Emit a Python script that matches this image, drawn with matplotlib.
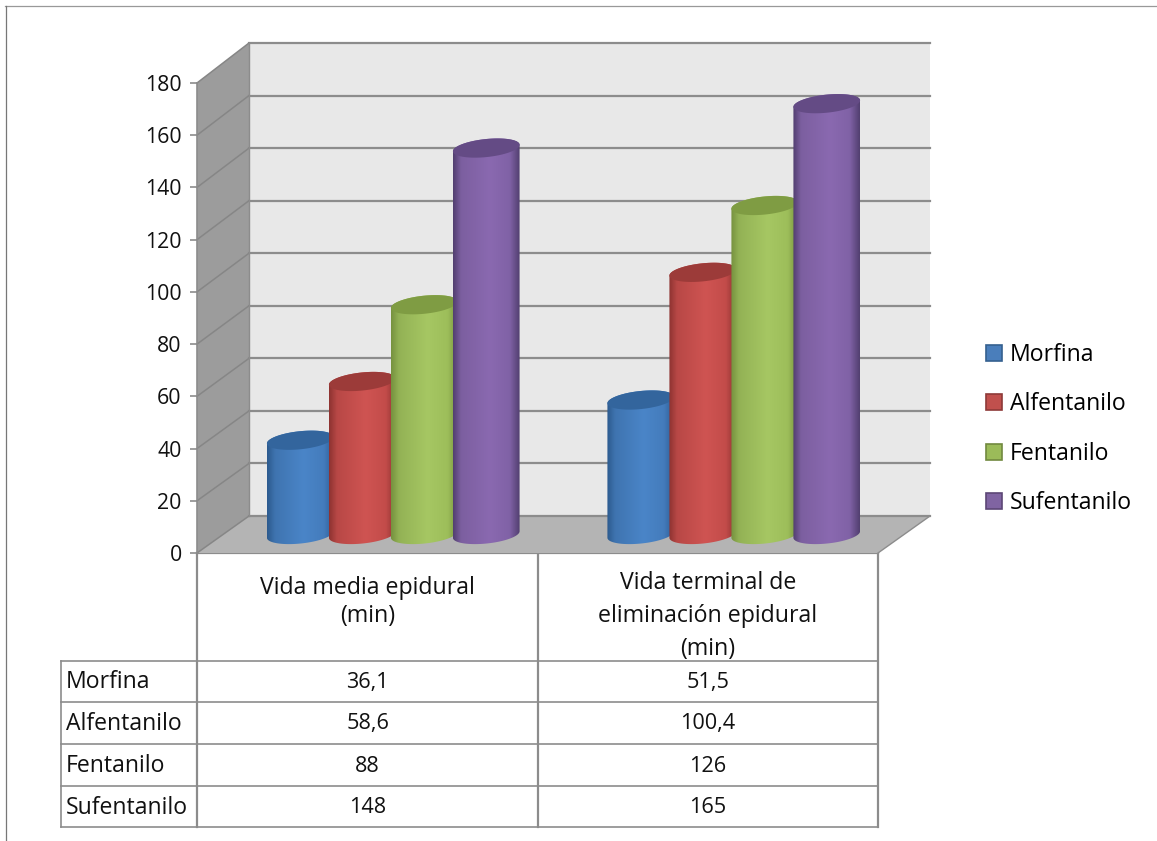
import numpy as np
import matplotlib
matplotlib.use("Agg")
import matplotlib.pyplot as plt
from matplotlib.patches import Polygon, Patch

plt.rcParams['font.family'] = ['Open Sans', 'DejaVu Sans']

# -----------------------------
# Data
# -----------------------------
categories = [["Vida media epidural", "(min)"],
              ["Vida terminal de", "eliminación epidural", "(min)"]]
series = ["Morfina", "Alfentanilo", "Fentanilo", "Sufentanilo"]
morfina = [36.1, 51.5]
alfentanilo = [58.6, 100.4]
fentanilo = [88, 126]
sufentanilo = [148, 165]
y_ticks = list(range(0, 181, 20))

values = [morfina, alfentanilo, fentanilo, sufentanilo]

# side stops of each cylinder: edge, mid, highlight, mid, edge
body_colors = [
    ["#2C5A8E", "#3F74B0", "#4A85C8", "#447CBC", "#2E5E96"],
    ["#8E3331", "#B84846", "#CF5452", "#C34C4A", "#8E3331"],
    ["#76923F", "#93B255", "#A6C763", "#9DBE5A", "#76923F"],
    ["#523F70", "#7C5FA0", "#8A69B0", "#8062A6", "#523F70"],
]
top_colors = ["#33659D", "#9C3B39", "#7F9C43", "#644B85"]
legend_colors = ["#4A7EBB", "#C0504D", "#9BBB59", "#8064A2"]
legend_edges = ["#35608F", "#8E3A38", "#71893F", "#5C4776"]

W, H = 1157, 841
LINE = "#8C8C8C"

fig = plt.figure(figsize=(W / 100, H / 100), dpi=100, facecolor="white")

# pixel layer for the frame and the table
ov = fig.add_axes([0, 0, 1, 1])
ov.set_xlim(0, W)
ov.set_ylim(H, 0)
ov.axis("off")

# chart axes = front plane of the 3D box
X0, X1, Y0, Y1 = 197, 878, 553, 83
ax = fig.add_axes([X0 / W, (H - Y0) / H, (X1 - X0) / W, (Y0 - Y1) / H])
ax.patch.set_alpha(0)
px_x = 2 / (X1 - X0)
px_y = 180 / (Y0 - Y1)

DEPTH_X, DEPTH_Y = 52, 37
BACK_SCALE = 473 / 470


def back(x, v):
    return x + DEPTH_X * px_x, v * BACK_SCALE + DEPTH_Y * px_y


# -----------------------------
# Walls
# -----------------------------
ymax = y_ticks[-1]
ax.add_patch(Polygon([back(0, 0), back(2, 0), back(2, ymax), back(0, ymax)],
                     fc="#E8E8E8", ec="none", zorder=1, clip_on=False))
ax.add_patch(Polygon([(0, 0), back(0, 0), back(0, ymax), (0, ymax)],
                     fc="#9C9C9C", ec="none", zorder=1, clip_on=False))
ax.add_patch(Polygon([(0, 0), (2, 0), back(2, 0), back(0, 0)],
                     fc="#B4B4B4", ec="none", zorder=1, clip_on=False))
for v in y_ticks:
    bx, by = back(0, v)
    ex, ey = back(2, v)
    ax.plot([bx, ex], [by, ey], color=LINE, lw=1.6, zorder=2, clip_on=False)
    ax.plot([0, bx], [v, by], color="#868686", lw=1.1, zorder=2, clip_on=False)
ax.plot([0, 0], [0, ymax], color=LINE, lw=1.2, zorder=2, clip_on=False)
ax.plot([bx, bx], [back(0, 0)[1], by], color=LINE, lw=1.0, zorder=2, clip_on=False)
ax.plot([2, back(2, 0)[0]], [0, back(2, 0)[1]], color=LINE, lw=1.0, zorder=2, clip_on=False)


# -----------------------------
# Cylinders
# -----------------------------
def ellipse_px(a=33.5, b=9.0, tilt=np.radians(6)):
    t = np.linspace(0, 2 * np.pi, 241)[:-1]
    ex = a * np.cos(t) * np.cos(tilt) - b * np.sin(t) * np.sin(tilt)
    ey = a * np.cos(t) * np.sin(tilt) + b * np.sin(t) * np.cos(tilt)
    return ex, ey


def draw_cylinder(xc, v, stops, top, z):
    ex, ey = ellipse_px()
    base_y = 0.5 * DEPTH_Y * px_y
    xs = xc + 0.5 * DEPTH_X * px_x + ex * px_x
    ys = ey * px_y
    i_l, i_r = np.argmin(ex), np.argmax(ex)
    order = np.roll(np.arange(len(ex)), -i_r)
    k = (i_l - i_r) % len(ex)
    upper = order[:k + 1]               # right to left over the top
    lower = np.r_[order[k:], order[0]]  # left to right under the bottom
    body = np.r_[np.c_[xs[lower], base_y + ys[lower]],
                 np.c_[xs[upper], base_y + v + ys[upper]]]
    clip = Polygon(body, transform=ax.transData, fc="none", ec="none")
    ax.add_patch(clip)
    ramp = np.array([matplotlib.colors.to_rgb(c) for c in stops])
    pos = np.array([0, 0.12, 0.55, 0.85, 1])
    u = np.linspace(0, 1, 128)
    img = np.stack([np.interp(u, pos, ramp[:, c]) for c in range(3)], axis=-1)[None, :, :]
    im = ax.imshow(img, extent=(xs.min(), xs.max(), 0, base_y + v + 20),
                   aspect="auto", zorder=z, interpolation="bilinear")
    im.set_clip_path(clip)
    ax.add_patch(Polygon(np.c_[xs, base_y + v + ys], fc=top, ec="none", zorder=z + 0.5))


pitch = 62 * px_x
for g in range(len(categories)):
    for s in range(len(series)):
        xc = g + 0.5 + (s - 1.5) * pitch
        draw_cylinder(xc, values[s][g], body_colors[s], top_colors[s], 3 + s)

ax.set_xlim(0, 2)
ax.set_ylim(0, ymax)
ax.set_xticks([])
ax.set_yticks(y_ticks)
ax.tick_params(axis="y", length=5, width=1.2, color=LINE, labelsize=15.3, pad=6, labelcolor="#111111")
for sp in ax.spines.values():
    sp.set_visible(False)

# -----------------------------
# Frame and data table
# -----------------------------
ov.plot([5, W], [6, 6], color="#999999", lw=0.9)
ov.plot([6, 6], [6, H], color="#777777", lw=0.9)

col_x = [197, 538, 878]
row_y = [661, 702, 744, 786, 827]
ov.plot([197, 878], [553, 553], color=LINE, lw=1.6)
for x in col_x:
    ov.plot([x, x], [553, 827], color=LINE, lw=1.6)
ov.plot([61, 61], [661, 827], color=LINE, lw=1.2)
for y in row_y:
    ov.plot([61, 878], [y, y], color=LINE, lw=1.2)

centers = [(col_x[i] + col_x[i + 1]) / 2 for i in range(2)]
head_y = [[588, 616], [583, 616, 649]]
for c, lines in enumerate(categories):
    for txt, y in zip(lines, head_y[c]):
        ov.text(centers[c], y, txt, ha="center", va="center", fontsize=16.7, color="#111111")

for r, name in enumerate(series):
    y = (row_y[r] + row_y[r + 1]) / 2 + 1
    ov.text(66, y, name, ha="left", va="center", fontsize=16.6, color="#111111")
    for c in range(2):
        ov.text(centers[c], y, str(values[r][c]).replace(".", ","),
                ha="center", va="center", fontsize=15.6, color="#111111")

# -----------------------------
# Legend
# -----------------------------
handles = [Patch(fc=f, ec=e, lw=1.2, label=n)
           for f, e, n in zip(legend_colors, legend_edges, series)]
fig.legend(handles=handles, loc="center left", frameon=False,
           bbox_to_anchor=(986 / W, 1 - 429 / H), fontsize=16.6,
           handlelength=0.7, handleheight=0.7, handletextpad=0.35,
           labelspacing=1.1, borderpad=0, borderaxespad=0)

fig.savefig("out.png", dpi=100)
